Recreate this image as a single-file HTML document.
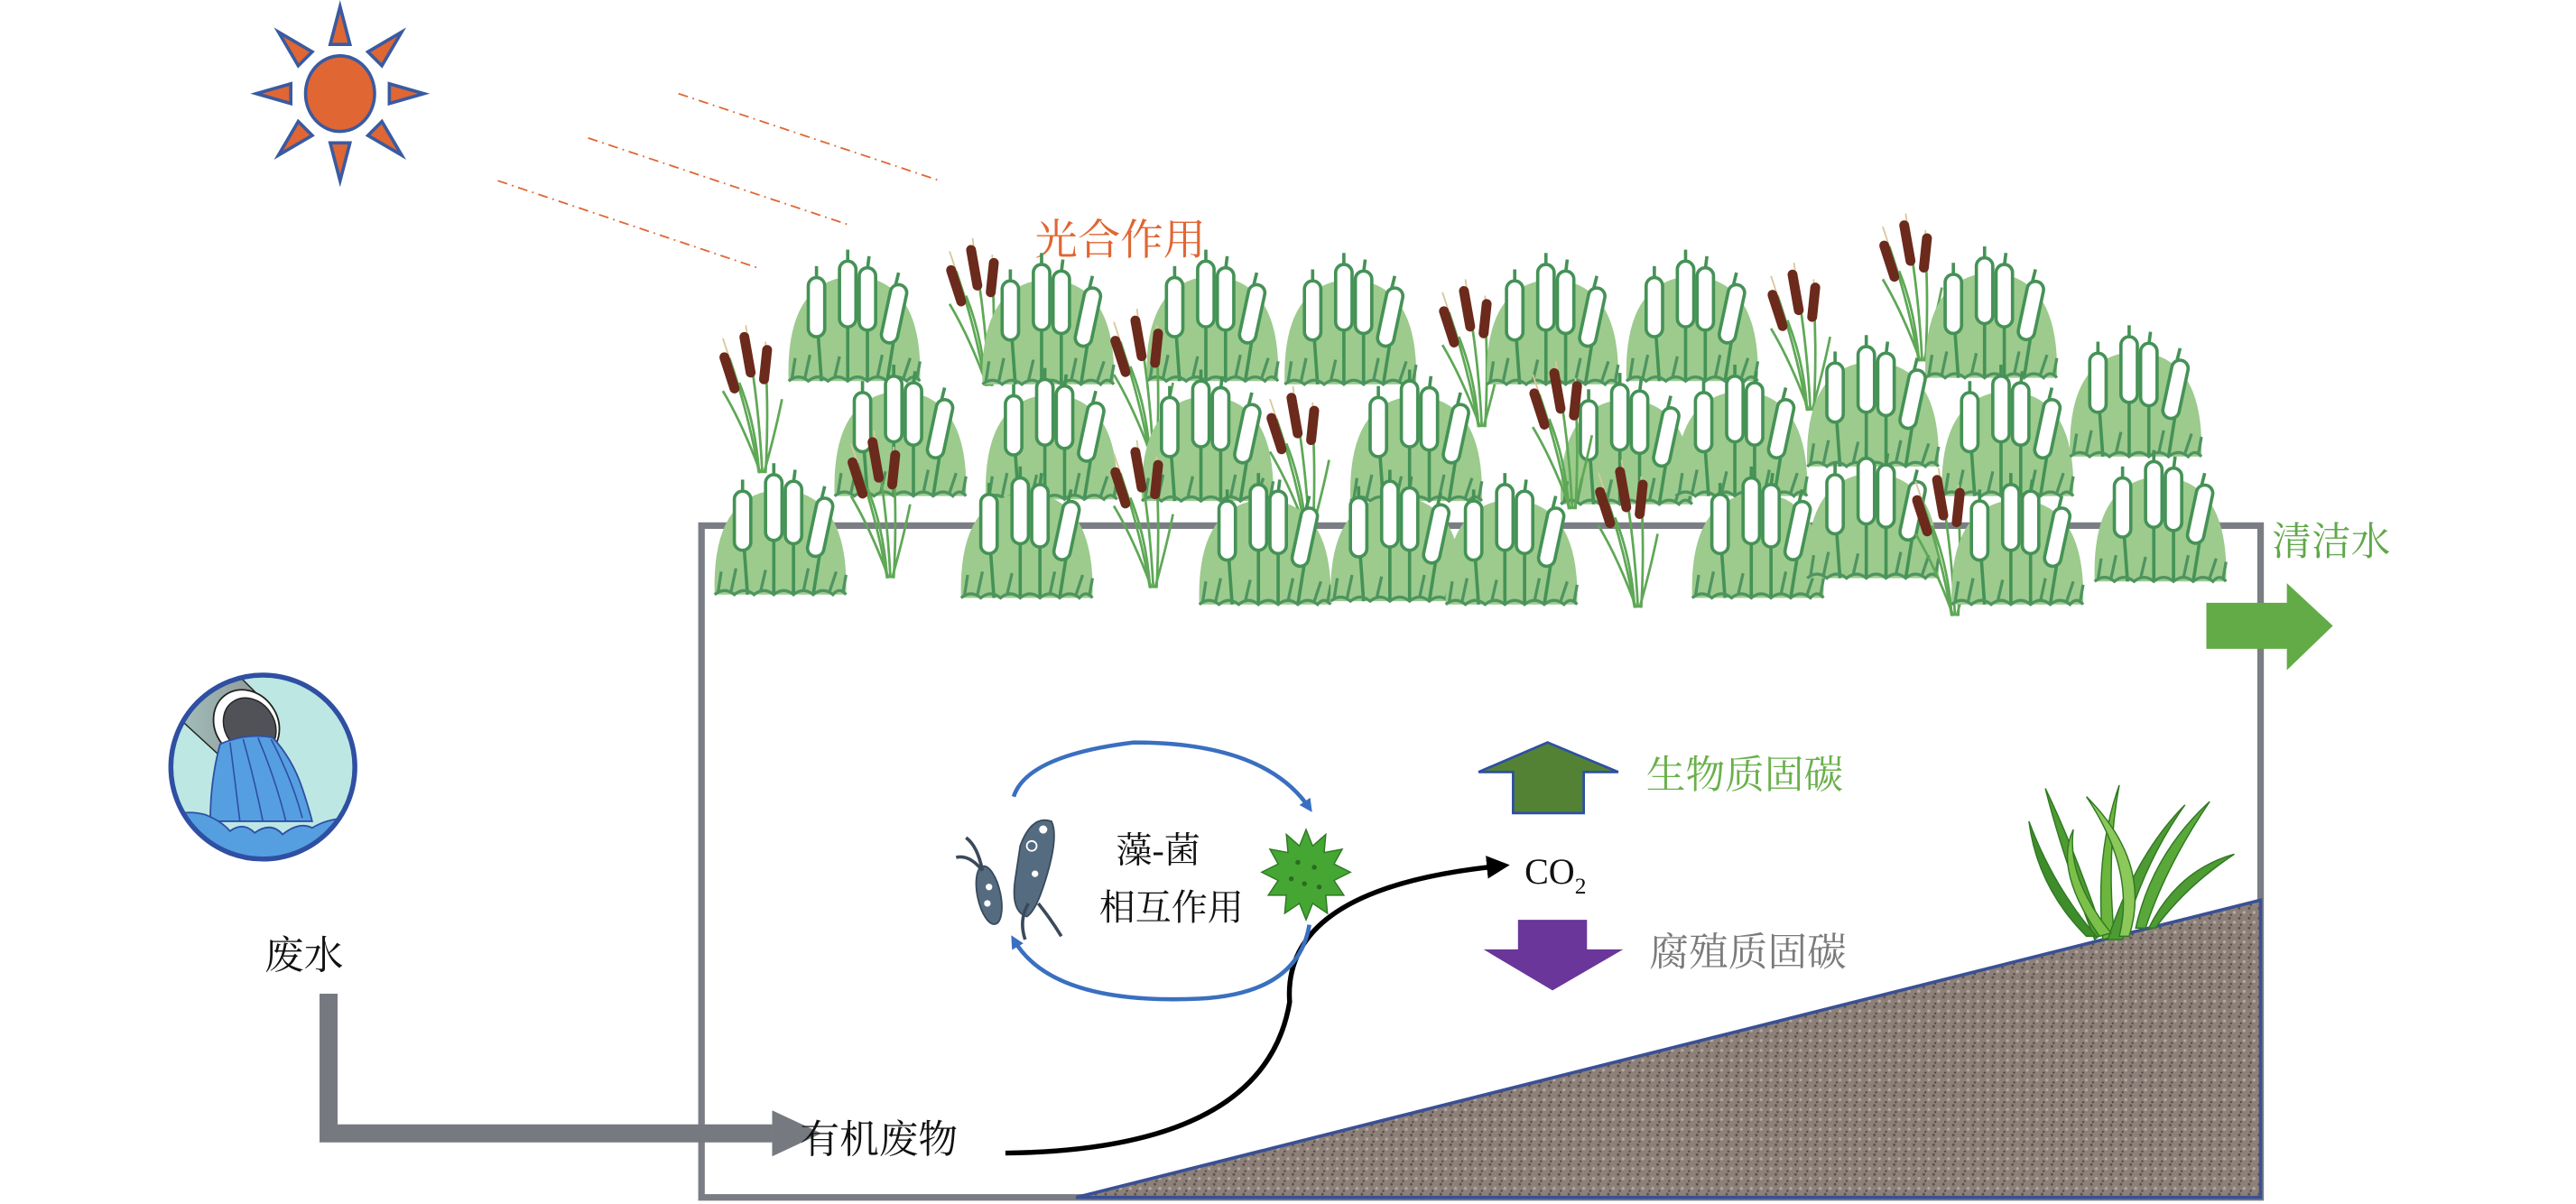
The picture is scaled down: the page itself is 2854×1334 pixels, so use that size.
<!DOCTYPE html>
<html><head><meta charset="utf-8"><style>
html,body{margin:0;padding:0;background:#fff;}
svg{display:block;}
text{font-family:"Liberation Serif","Noto Serif CJK SC","Noto Sans CJK SC",serif;}
</style></head><body>
<svg width="2854" height="1334" viewBox="0 0 1568 733" preserveAspectRatio="none" xmlns="http://www.w3.org/2000/svg">
<defs>
<symbol id="clump" overflow="visible">
  <path d="M-40,0 Q-42,-62 0,-64 Q42,-62 40,0 Z" fill="#9ccb8d"/>
  <g stroke="#459256" stroke-width="2" fill="none">
    <line x1="-22" y1="-28" x2="-20" y2="0"/><line x1="-4" y1="-35" x2="-4" y2="0"/><line x1="8" y1="-33" x2="8" y2="0"/><line x1="24" y1="-25" x2="20" y2="0"/>
    <line x1="-23" y1="-62" x2="-23" y2="-70"/><line x1="-4" y1="-72" x2="-4" y2="-80"/><line x1="8" y1="-68" x2="9" y2="-76"/><line x1="25" y1="-58" x2="27" y2="-66"/>
  </g>
  <g fill="#fff" stroke="#459256" stroke-width="2">
    <rect x="-28" y="-63" width="10" height="36" rx="5"/>
    <rect x="-9" y="-73" width="10" height="40" rx="5"/>
    <rect x="3" y="-69" width="10" height="38" rx="5"/>
    <rect x="19" y="-59" width="10" height="36" rx="5" transform="rotate(12 24 -40)"/>
  </g>
  <g stroke="#4f9460" stroke-width="1.8" fill="none">
    <path d="M-40,0 Q-34,-5 -28,0 Q-22,-5 -16,0 Q-10,-5 -4,0 Q2,-5 8,0 Q14,-5 20,0 Q26,-5 32,0 Q36,-5 40,0"/>
    <path d="M-38,-1 L-36,-14"/><path d="M-30,-2 L-27,-16"/><path d="M-12,-2 L-9,-15"/><path d="M14,-2 L17,-16"/><path d="M30,-2 L34,-14"/><path d="M38,-1 L40,-12"/>
  </g>
</symbol>
<symbol id="reed" overflow="visible">
  <g stroke="#5ea856" stroke-width="1.5" fill="none">
    <path d="M0,0 Q-6,-35 -18,-70"/><path d="M2,0 Q0,-40 -6,-75"/><path d="M4,0 Q6,-35 4,-68"/><path d="M1,0 Q-10,-30 -22,-50"/><path d="M3,0 Q10,-25 14,-45"/><path d="M0,0 Q-2,-30 -12,-55"/>
  </g>
  <g stroke="#d9c79a" stroke-width="1"><line x1="-18" y1="-70" x2="-22" y2="-82"/><line x1="-6" y1="-75" x2="-8" y2="-90"/><line x1="4" y1="-68" x2="4" y2="-80"/></g>
  <g fill="#6b2a1c">
    <rect x="-21" y="-74" width="6" height="26" rx="3" transform="rotate(-18 -18 -61)"/>
    <rect x="-10" y="-86" width="6" height="28" rx="3" transform="rotate(-10 -7 -72)"/>
    <rect x="1" y="-78" width="6" height="24" rx="3" transform="rotate(6 4 -66)"/>
  </g>
</symbol>
<marker id="ab" markerWidth="8" markerHeight="8" refX="5" refY="4" orient="auto" markerUnits="userSpaceOnUse"><path d="M0,0 L8,4 L0,8 Z" fill="#3a6fc0"/></marker>
<marker id="ak" markerWidth="14" markerHeight="14" refX="10" refY="7" orient="auto" markerUnits="userSpaceOnUse"><path d="M0,0 L14,7 L0,14 Z" fill="#000"/></marker>
<pattern id="soil" width="6" height="6" patternUnits="userSpaceOnUse">
  <rect width="6" height="6" fill="#8d8078"/><circle cx="1" cy="1" r="0.8" fill="#5b514c"/><circle cx="4" cy="3.5" r="0.9" fill="#b5aaa3"/><circle cx="2" cy="5" r="0.6" fill="#4a423e"/>
</pattern>
<clipPath id="cc"><circle cx="160" cy="467" r="56"/></clipPath>
<linearGradient id="pg" x1="0" y1="0" x2="1" y2="0"><stop offset="0" stop-color="#a9cfc9"/><stop offset="1" stop-color="#8f9596"/></linearGradient>
</defs>

<!-- sun -->
<g fill="#e06633" stroke="#3a5aa0" stroke-width="2">
  <ellipse cx="207" cy="57" rx="21" ry="23"/>
  <g transform="translate(207,57)">
    <polygon points="-6,-30 6,-30 0,-53"/><polygon points="-6,30 6,30 0,53"/>
    <polygon points="30,-6 30,6 51,0"/><polygon points="-30,-6 -30,6 -51,0"/>
    <polygon points="-6,-30 6,-30 0,-53" transform="rotate(45)"/><polygon points="-6,-30 6,-30 0,-53" transform="rotate(135)"/>
    <polygon points="-6,-30 6,-30 0,-53" transform="rotate(225)"/><polygon points="-6,-30 6,-30 0,-53" transform="rotate(315)"/>
  </g>
</g>
<g stroke="#e06633" stroke-width="1" stroke-dasharray="6,3,1,3">
  <line x1="413" y1="57" x2="572" y2="110"/><line x1="358" y1="84" x2="517" y2="137"/><line x1="303" y1="110" x2="461" y2="163"/>
</g>
<text x="630" y="155" font-size="26" fill="#e06633">光合作用</text>

<!-- box -->
<rect x="427" y="320" width="949" height="409" fill="none" stroke="#7a7e84" stroke-width="4"/>
<!-- soil -->
<polygon points="655,729 1376,548 1376,729" fill="url(#soil)" stroke="#3a5095" stroke-width="2"/>

<!-- plants -->
<use href="#reed" x="462" y="288"/>
<use href="#clump" x="520" y="232"/><use href="#reed" x="600" y="235"/><use href="#clump" x="638" y="234"/>
<use href="#clump" x="738" y="232"/><use href="#clump" x="822" y="234"/><use href="#reed" x="900" y="260"/>
<use href="#clump" x="945" y="234"/><use href="#clump" x="1030" y="232"/><use href="#reed" x="1100" y="250"/>
<use href="#reed" x="1168" y="220"/><use href="#clump" x="1212" y="230"/>
<use href="#clump" x="548" y="302"/><use href="#clump" x="640" y="304"/><use href="#reed" x="700" y="278"/>
<use href="#clump" x="735" y="305"/><use href="#clump" x="862" y="305"/><use href="#reed" x="795" y="325"/>
<use href="#clump" x="990" y="307"/><use href="#reed" x="955" y="310"/><use href="#clump" x="1060" y="302"/>
<use href="#clump" x="1140" y="284"/><use href="#clump" x="1222" y="302"/><use href="#clump" x="1300" y="278"/>
<use href="#clump" x="475" y="362"/><use href="#reed" x="540" y="352"/><use href="#clump" x="625" y="364"/>
<use href="#reed" x="700" y="358"/><use href="#clump" x="770" y="368"/><use href="#clump" x="850" y="366"/>
<use href="#clump" x="920" y="368"/><use href="#reed" x="995" y="370"/><use href="#clump" x="1070" y="364"/>
<use href="#clump" x="1140" y="352"/><use href="#reed" x="1188" y="375"/><use href="#clump" x="1228" y="368"/>
<use href="#clump" x="1315" y="354"/>

<!-- clean water -->
<text x="1383" y="338" font-size="24" fill="#5fa848">清洁水</text>
<polygon points="1343,367 1392,367 1392,355 1420,381 1392,408 1392,395 1343,395" fill="#62ab47"/>

<!-- seagrass -->
<g fill="#4e9a33" stroke="#2f7a22" stroke-width="0.8">
  <path d="M1275,572 Q1255,520 1245,480 Q1262,515 1280,568 Z"/>
  <path d="M1280,572 Q1275,520 1290,478 Q1282,520 1287,570 Z" fill="#6cb63e"/>
  <path d="M1283,572 Q1300,520 1330,490 Q1305,525 1292,572 Z"/>
  <path d="M1278,570 Q1250,530 1262,505 Q1258,535 1285,568 Z" fill="#7cc04a"/>
  <path d="M1300,565 Q1310,520 1345,488 Q1318,528 1306,565 Z" fill="#5aa83a"/>
  <path d="M1308,565 Q1325,530 1360,520 Q1330,540 1312,565 Z"/>
  <path d="M1270,570 Q1240,540 1235,500 Q1250,540 1276,570 Z" fill="#3f8c2b"/>
  <path d="M1290,570 Q1300,530 1270,485 Q1310,525 1296,570 Z" fill="#8cc85a"/>
</g>

<!-- waste water circle -->
<circle cx="160" cy="467" r="56" fill="#bde7e3"/>
<g clip-path="url(#cc)">
  <polygon points="162,428 138,464 88,418 118,384" fill="url(#pg)" stroke="#222" stroke-width="0.8"/>
  <ellipse cx="150" cy="441" rx="19" ry="22" transform="rotate(-35 150 441)" fill="#fff" stroke="#222" stroke-width="1"/>
  <ellipse cx="152" cy="442" rx="15" ry="18" transform="rotate(-35 152 442)" fill="#505258" stroke="#222" stroke-width="0.8"/>
  <path d="M134,453 Q150,446 166,449 Q178,462 184,480 Q188,492 190,500 L128,500 Q128,475 134,453 Z" fill="#559fe0" stroke="#2f4fa3" stroke-width="1"/>
  <g stroke="#2f4fa3" stroke-width="0.9" fill="none"><path d="M140,452 Q143,475 146,500"/><path d="M148,450 Q155,475 160,500"/><path d="M157,449 Q168,475 174,500"/><path d="M165,450 Q178,475 184,498"/></g>
  <path d="M100,500 Q110,492 125,496 Q135,500 140,506 Q148,500 155,507 Q165,500 172,508 Q182,500 190,504 Q205,495 225,500 L225,530 L100,530 Z" fill="#559fe0" stroke="#2f4fa3" stroke-width="1"/>
</g>
<circle cx="160" cy="467" r="56" fill="none" stroke="#2f4fa3" stroke-width="3"/>
<text x="185" y="590" font-size="24" fill="#111" text-anchor="middle">废水</text>

<!-- gray pipe -->
<path d="M200,605 L200,690 L470,690" fill="none" stroke="#767a80" stroke-width="11"/>
<polygon points="470,676 500,690 470,704" fill="#767a80"/>
<text x="487" y="702" font-size="24" fill="#111">有机废物</text>

<!-- black curve -->
<path d="M612,702 Q770,700 785,610 Q780,540 915,527" fill="none" stroke="#000" stroke-width="3" marker-end="url(#ak)"/>
<text x="928" y="538" font-size="22" fill="#111">CO<tspan font-size="14" dy="6">2</tspan></text>

<!-- carbon arrows -->
<polygon points="921,495 921,470 900,470 942,452 985,470 964,470 964,495" fill="#548235" stroke="#2f4fa3" stroke-width="1.5"/>
<text x="1002" y="480" font-size="24" fill="#6ab04c">生物质固碳</text>
<polygon points="924,560 966,560 966,578 988,578 945,603 903,578 924,578" fill="#6a369a"/>
<text x="1004" y="588" font-size="24" fill="#7a7a7a">腐殖质固碳</text>

<!-- algae-bacteria cycle -->
<path d="M617,485 Q625,460 690,452 Q770,452 797,492" fill="none" stroke="#3a6fc0" stroke-width="2.5" marker-end="url(#ab)"/>
<path d="M797,563 Q790,605 730,608 Q640,612 617,572" fill="none" stroke="#3a6fc0" stroke-width="2.5" marker-end="url(#ab)"/>
<text x="705" y="525" font-size="22" fill="#111" text-anchor="middle">藻-菌</text>
<text x="713" y="560" font-size="22" fill="#111" text-anchor="middle">相互作用</text>
<!-- bacteria -->
<g fill="#556b80" stroke="#3a4a5a" stroke-width="1">
  <path d="M621,515 Q628,496 640,500 Q645,510 635,540 Q630,555 625,558 Q615,555 618,535 Z"/>
  <ellipse cx="602" cy="545" rx="7" ry="18" transform="rotate(-12 602 545)"/>
</g>
<g fill="#fff"><circle cx="635" cy="505" r="2.5"/><circle cx="628" cy="515" r="3" fill="none" stroke="#fff"/><circle cx="630" cy="532" r="2"/><circle cx="602" cy="540" r="2"/><circle cx="601" cy="550" r="2"/></g>
<g stroke="#3a4a5a" stroke-width="2" fill="none"><path d="M626,550 Q620,560 624,572"/><path d="M632,550 Q640,560 646,570"/><path d="M598,530 Q590,520 582,522"/><path d="M598,530 Q595,515 588,510"/></g>
<!-- algae star -->
<polygon points="795,505 799,515 807,508 806,519 817,517 812,526 822,531 812,536 818,545 807,545 808,556 799,550 795,560 791,550 782,556 783,545 772,545 778,536 768,531 778,526 773,517 784,519 783,508 791,515" fill="#45a634" stroke="#2e7a22" stroke-width="0.8"/>
<g fill="#2c6a22"><circle cx="790" cy="525" r="1.5"/><circle cx="800" cy="528" r="1.5"/><circle cx="794" cy="538" r="1.5"/><circle cx="803" cy="540" r="1.5"/><circle cx="786" cy="535" r="1.5"/></g>
</svg>
</body></html>
